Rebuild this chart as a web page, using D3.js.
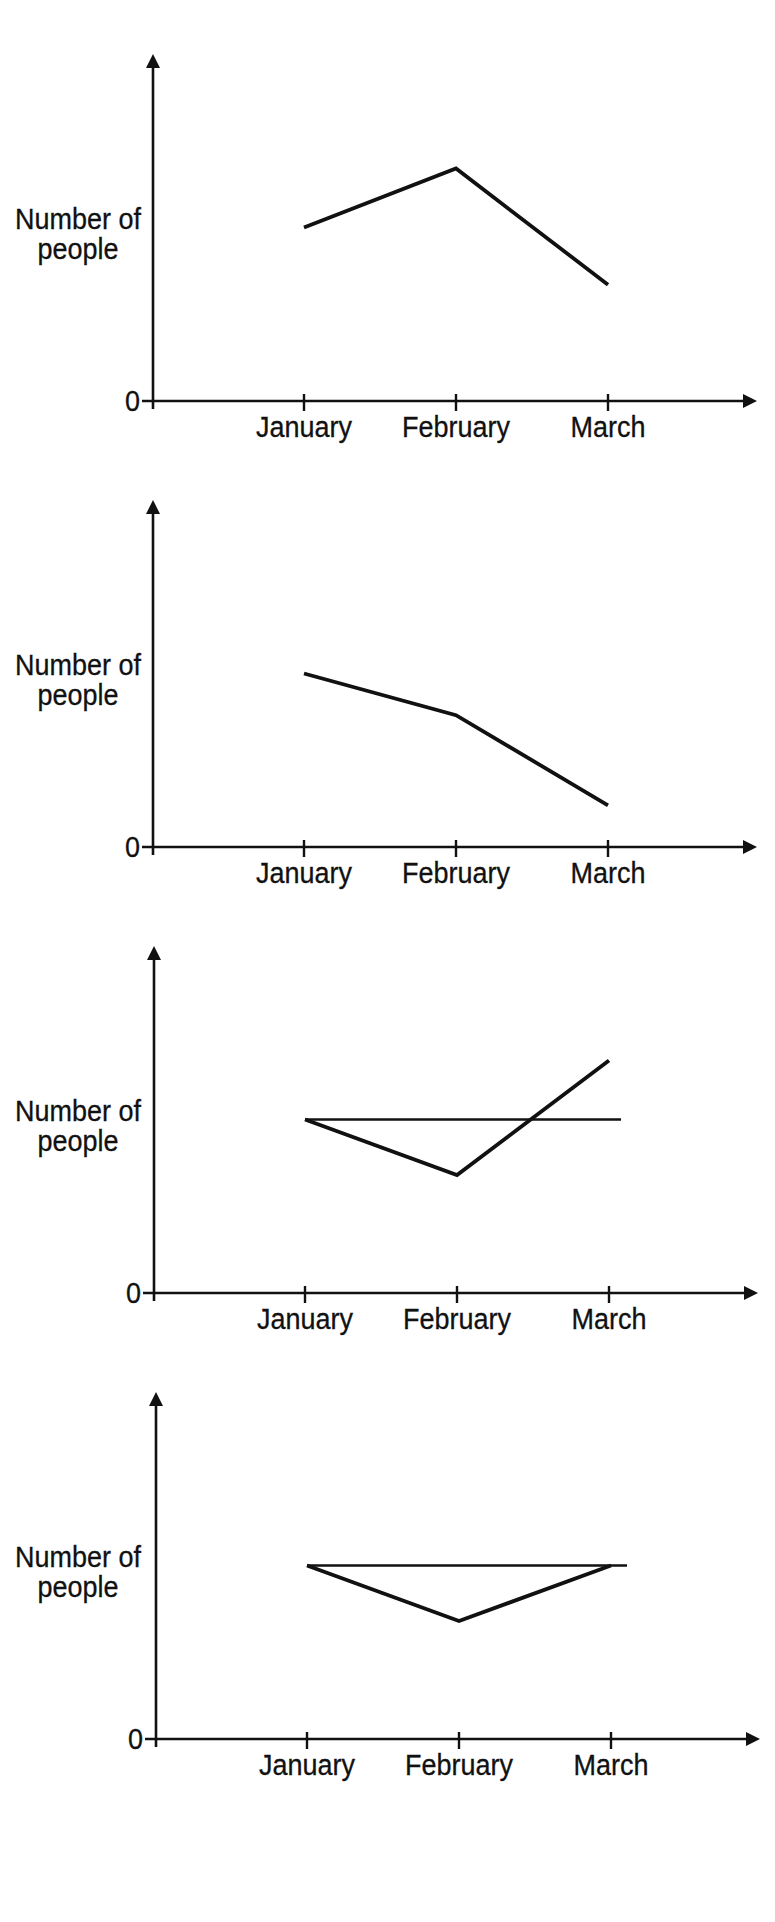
<!DOCTYPE html>
<html lang="en">
<head>
<meta charset="utf-8">
<title>Number of people</title>
<script src="https://d3js.org/d3.v7.js"></script>
<style type="text/css">
	body { margin: 0; background: #ffffff; }
	svg text { font-family: "Liberation Sans", Arial, sans-serif; font-size: 29px; fill: #111; stroke: #111; stroke-width: 0.3px; }
</style>
</head>
<body>
<div id="chart"></div>
<script>
// values (arbitrary units, axis top = 10)
const months = ["January", "February", "March"];
const yLabel = ["Number of", "people"];
const zeroLabel = "0";
const yMax = 10;

const chart1 = [5.0, 6.7, 3.35];
const chart2 = [5.0, 3.8, 1.2];
const chart3 = [5.0, 3.4, 6.7];
const chart3Flat = [5.0, 5.0, 5.0];
const chart4 = [5.0, 3.4, 5.0];
const chart4Flat = [5.0, 5.0, 5.0];

const W = 775, H = 1922;
const svg = d3.select("#chart").append("svg")
	.attr("width", W)
	.attr("height", H);

svg.append("rect").attr("width", W).attr("height", H).attr("fill", "#fff");

// where each little chart sits: x of the y axis, y of the x axis
const panels = [
	{x0: 153, base: 401, main: chart1, flat: null, ext: 0},
	{x0: 153, base: 847, main: chart2, flat: null, ext: 0},
	{x0: 154, base: 1293, main: chart3, flat: chart3Flat, ext: 12},
	{x0: 156, base: 1739, main: chart4, flat: chart4Flat, ext: 16}
];

const AX_H = 347;    // axis height to arrow tip
const AX_W = 604;    // x axis length to arrow tip
const ARROW = 14;
const NARROW = 0.93; // the scanned lettering is a bit condensed

// squeeze text horizontally
function condense(sel) {
	sel.each(function() {
		const len = this.getComputedTextLength();
		d3.select(this)
			.attr("textLength", len * NARROW)
			.attr("lengthAdjust", "spacingAndGlyphs");
	});
}

panels.forEach(function(p) {
	const g = svg.append("g");

	const x = d3.scalePoint()
		.domain(months)
		.range([p.x0 + 151, p.x0 + 455]);

	const y = d3.scaleLinear()
		.domain([0, yMax])
		.range([p.base, p.base - AX_H]);

	// y axis (runs a bit below the origin)
	g.append("line")
		.attr("x1", p.x0).attr("x2", p.x0)
		.attr("y1", p.base + 8).attr("y2", y(yMax) + ARROW - 2)
		.attr("stroke", "#111").attr("stroke-width", 2.6);

	// x axis, starting left of the origin as the "0" tick
	g.append("line")
		.attr("x1", p.x0 - 11).attr("x2", p.x0 + AX_W - ARROW + 2)
		.attr("y1", y(0)).attr("y2", y(0))
		.attr("stroke", "#111").attr("stroke-width", 2.6);

	// arrow heads
	const tipY = y(yMax), tipX = p.x0 + AX_W;
	g.append("path")
		.attr("d", `M${p.x0},${tipY} L${p.x0 - ARROW / 2},${tipY + ARROW} L${p.x0 + ARROW / 2},${tipY + ARROW} Z`)
		.attr("fill", "#111");
	g.append("path")
		.attr("d", `M${tipX},${y(0)} L${tipX - ARROW},${y(0) - ARROW / 2} L${tipX - ARROW},${y(0) + ARROW / 2} Z`)
		.attr("fill", "#111");

	// month ticks crossing the axis
	g.selectAll(".tick")
		.data(months)
		.join("line")
		.attr("x1", d => x(d)).attr("x2", d => x(d))
		.attr("y1", y(0) - 7).attr("y2", y(0) + 10)
		.attr("stroke", "#111").attr("stroke-width", 2.4);

	g.selectAll(".mlabel")
		.data(months)
		.join("text")
		.attr("x", d => x(d))
		.attr("y", y(0) + 36)
		.attr("text-anchor", "middle")
		.text(d => d)
		.call(condense);

	g.append("text")
		.attr("x", p.x0 - 13)
		.attr("y", y(0) + 10)
		.attr("text-anchor", "end")
		.text(zeroLabel)
		.call(condense);

	g.selectAll(".ylabel")
		.data(yLabel)
		.join("text")
		.attr("x", 78)
		.attr("y", (d, i) => y(0) - 172 + i * 30)
		.attr("text-anchor", "middle")
		.text(d => d)
		.call(condense);

	const line = d3.line()
		.x((d, i) => x(months[i]))
		.y(d => y(d));

	// flat reference line, drawn a little past March
	if (p.flat) {
		const flatLine = d3.line()
			.x((d, i) => x(months[i]) + (i === months.length - 1 ? p.ext : 0))
			.y(d => y(d));
		g.append("path")
			.datum(p.flat)
			.attr("d", flatLine)
			.attr("fill", "none")
			.attr("stroke", "#111")
			.attr("stroke-width", 2.6);
	}

	g.append("path")
		.datum(p.main)
		.attr("d", line)
		.attr("fill", "none")
		.attr("stroke", "#111")
		.attr("stroke-width", 3.8)
		.attr("stroke-linejoin", "miter");
});
</script>
</body>
</html>
